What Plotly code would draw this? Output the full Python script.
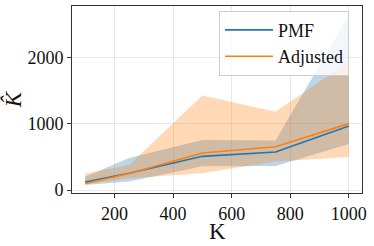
import plotly.graph_objects as go

K = [100, 250, 500, 750, 1000]
pmf_mean = [120, 255, 510, 575, 970]
pmf_lower = [75, 130, 360, 365, 695]
pmf_upper = [200, 485, 758, 750, 2650]
adj_mean = [100, 250, 560, 655, 1005]
adj_lower = [85, 180, 255, 430, 500]
adj_upper = [250, 380, 1430, 1185, 1945]

x_ticks = [200, 400, 600, 800, 1000]
y_ticks = [0, 1000, 2000]

BLUE = "#1f77b4"
ORANGE = "#ff7f0e"
FONT = "Liberation Serif"

fig = go.Figure()
fig.add_trace(go.Scatter(x=K + K[::-1], y=pmf_upper + pmf_lower[::-1], fill="toself",
                         fillcolor="rgba(31,119,180,0.3)", line=dict(width=0),
                         mode="lines", showlegend=False, hoverinfo="skip"))
fig.add_trace(go.Scatter(x=K + K[::-1], y=adj_upper + adj_lower[::-1], fill="toself",
                         fillcolor="rgba(255,127,14,0.3)", line=dict(width=0),
                         mode="lines", showlegend=False, hoverinfo="skip"))
fig.add_trace(go.Scatter(x=K, y=pmf_mean, mode="lines", name="PMF",
                         line=dict(color=BLUE, width=1.6)))
fig.add_trace(go.Scatter(x=K, y=adj_mean, mode="lines", name="Adjusted",
                         line=dict(color=ORANGE, width=1.6)))

axis_common = dict(showline=True, linecolor="#333", linewidth=1, mirror=True,
                   ticks="outside", ticklen=4, tickcolor="#333",
                   showgrid=True, gridcolor="rgba(0,0,0,0.09)", gridwidth=1,
                   zeroline=False, automargin=False,
                   tickfont=dict(family=FONT, size=18, color="#111"))

fig.update_layout(
    width=374, height=246,
    margin=dict(l=72, r=12, t=6, b=53),
    paper_bgcolor="white", plot_bgcolor="white",
    font=dict(family=FONT, color="#111"),
    xaxis=dict(range=[55, 1045], tickvals=x_ticks, **axis_common),
    yaxis=dict(range=[-45, 2785], tickvals=y_ticks,
               title=dict(text="<i>K̂</i>", font=dict(family=FONT, size=23), standoff=6),
               **axis_common),
    legend=dict(x=0.507, y=0.975, xanchor="left", yanchor="top",
                bgcolor="rgba(255,255,255,0.8)", bordercolor="#ccc", borderwidth=1,
                font=dict(family=FONT, size=18, color="#111"),
                itemwidth=48, tracegroupgap=0),
    showlegend=True,
    annotations=[dict(text="K", xref="paper", yref="paper", x=0.5, y=-0.205,
                      xanchor="center", yanchor="middle", showarrow=False,
                      font=dict(family=FONT, size=23, color="#111"))],
)

fig.write_html("out.html", config={"displayModeBar": False},
               post_script="document.body.style.margin='0';document.body.style.padding='0';")
